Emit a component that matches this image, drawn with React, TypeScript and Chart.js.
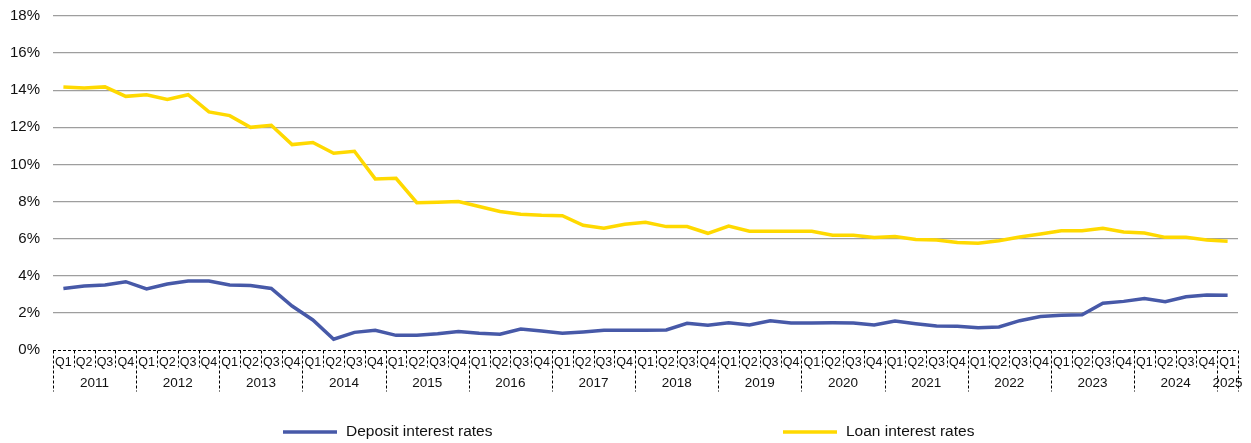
import React, { useEffect, useRef } from "react";
import { Chart, registerables } from "chart.js";

Chart.register(...registerables);

const years = ["2011", "2012", "2013", "2014", "2015", "2016", "2017", "2018", "2019", "2020", "2021", "2022", "2023", "2024", "2025"];
const quarters = ["Q1", "Q2", "Q3", "Q4"];
const categories: string[] = [];
years.forEach((y) => {
  const qs = y === "2025" ? ["Q1"] : quarters;
  qs.forEach((q) => categories.push(q + " " + y));
});

const depositRates = [
  3.32, 3.45, 3.5, 3.68, 3.29, 3.56, 3.72, 3.72, 3.5, 3.47, 3.32, 2.37,
  1.62, 0.58, 0.95, 1.06, 0.79, 0.8, 0.88, 0.99, 0.9, 0.85, 1.13, 1.02,
  0.9, 0.97, 1.06, 1.06, 1.06, 1.08, 1.44, 1.33, 1.47, 1.35, 1.58, 1.46,
  1.46, 1.47, 1.46, 1.35, 1.56, 1.42, 1.29, 1.28, 1.2, 1.24, 1.58, 1.8,
  1.87, 1.9, 2.52, 2.62, 2.77, 2.6, 2.87, 2.96, 2.95,
];

const loanRates = [
  14.18, 14.12, 14.18, 13.67, 13.76, 13.5, 13.76, 12.83, 12.63, 12.0, 12.11, 11.07,
  11.18, 10.6, 10.71, 9.22, 9.25, 7.94, 7.96, 8.0, 7.73, 7.46, 7.31, 7.26,
  7.24, 6.72, 6.56, 6.78, 6.88, 6.65, 6.65, 6.29, 6.68, 6.4, 6.4, 6.4,
  6.4, 6.18, 6.18, 6.06, 6.11, 5.96, 5.93, 5.79, 5.75, 5.89, 6.09, 6.25,
  6.43, 6.43, 6.56, 6.36, 6.31, 6.07, 6.07, 5.93, 5.86,
];

const yTicks = [0, 2, 4, 6, 8, 10, 12, 14, 16, 18];

const FONT = "'Liberation Sans', Arial, sans-serif";
const DEPOSIT_COLOR = "#4759A8";
const LOAN_COLOR = "#FFD900";

const axisPlugin = {
  id: "quarterAxis",
  afterDraw(chart: any) {
    const ctx = chart.ctx;
    const x = chart.scales.x;
    const area = chart.chartArea;
    const n = categories.length;
    const step = (area.right - area.left) / n;
    const top = area.bottom + 0.5;
    ctx.save();
    ctx.strokeStyle = "#000";
    ctx.lineWidth = 1;
    ctx.setLineDash([3, 2]);
    ctx.beginPath();
    ctx.moveTo(area.left, top);
    ctx.lineTo(area.right, top);
    ctx.stroke();
    for (let i = 0; i <= n; i++) {
      const px = Math.round(i === n ? x.getPixelForValue(n - 1) + step / 2 : x.getPixelForValue(i) - step / 2) + 0.5;
      const isYear = i % 4 === 0 || i === n;
      ctx.beginPath();
      ctx.moveTo(px, top);
      ctx.lineTo(px, isYear ? top + 41 : top + 17);
      ctx.stroke();
    }
    ctx.setLineDash([]);
    ctx.fillStyle = "#111";
    ctx.textAlign = "center";
    ctx.textBaseline = "middle";
    ctx.font = "12.5px " + FONT;
    categories.forEach((c, i) => {
      ctx.fillText(c.split(" ")[0], x.getPixelForValue(i), top + 12);
    });
    ctx.font = "13.5px " + FONT;
    years.forEach((y, yi) => {
      const first = yi * 4;
      const last = Math.min(first + 3, n - 1);
      const cx = (x.getPixelForValue(first) + x.getPixelForValue(last)) / 2;
      ctx.fillText(y, cx, top + 32.5);
    });
    const legendY = 432;
    const items = [
      { label: "Deposit interest rates", color: DEPOSIT_COLOR, x: 283 },
      { label: "Loan interest rates", color: LOAN_COLOR, x: 783 },
    ];
    ctx.font = "15.5px " + FONT;
    ctx.textAlign = "left";
    items.forEach((it) => {
      ctx.strokeStyle = it.color;
      ctx.lineWidth = 3.5;
      ctx.beginPath();
      ctx.moveTo(it.x, legendY);
      ctx.lineTo(it.x + 54, legendY);
      ctx.stroke();
      ctx.fillStyle = "#111";
      ctx.fillText(it.label, it.x + 63, legendY);
    });
    ctx.restore();
  },
};

export default function App() {
  const ref = useRef<HTMLCanvasElement>(null);
  useEffect(() => {
    document.body.style.margin = "0";
    const chart = new Chart(ref.current!, {
      type: "line",
      data: {
        labels: categories,
        datasets: [
          {
            label: "Deposit interest rates",
            data: depositRates,
            borderColor: DEPOSIT_COLOR,
            borderWidth: 3.5,
            pointRadius: 0,
            tension: 0,
          },
          {
            label: "Loan interest rates",
            data: loanRates,
            borderColor: LOAN_COLOR,
            borderWidth: 3.5,
            pointRadius: 0,
            tension: 0,
          },
        ],
      },
      options: {
        animation: false,
        responsive: false,
        layout: { padding: { top: 16, right: 13, left: 0, bottom: 0 } },
        plugins: { legend: { display: false }, tooltip: { enabled: false } },
        scales: {
          x: {
            type: "category",
            offset: true,
            grid: { display: false },
            border: { display: false },
            ticks: { display: false },
            afterFit: (s: any) => {
              s.height = 93;
              s.paddingLeft = 0;
              s.paddingRight = 0;
            },
          },
          y: {
            min: 0,
            max: 18,
            afterBuildTicks: (s: any) => {
              s.ticks = yTicks.map((v) => ({ value: v }));
            },
            border: { display: false },
            grid: {
              drawTicks: false,
              color: (c: any) => (c.tick && c.tick.value === 0 ? "rgba(0,0,0,0)" : "#9E9E9E"),
              lineWidth: 1.3,
            },
            ticks: {
              padding: 13,
              color: "#111",
              font: { family: FONT, size: 15 },
              callback: (v: any) => v + "%",
            },
            afterFit: (s: any) => {
              s.width = 53;
              s.paddingTop = 0;
              s.paddingBottom = 0;
            },
          },
        },
      },
      plugins: [axisPlugin],
    });
    return () => chart.destroy();
  }, []);
  return <canvas ref={ref} width={1251} height={443} style={{ display: "block" }} />;
}
